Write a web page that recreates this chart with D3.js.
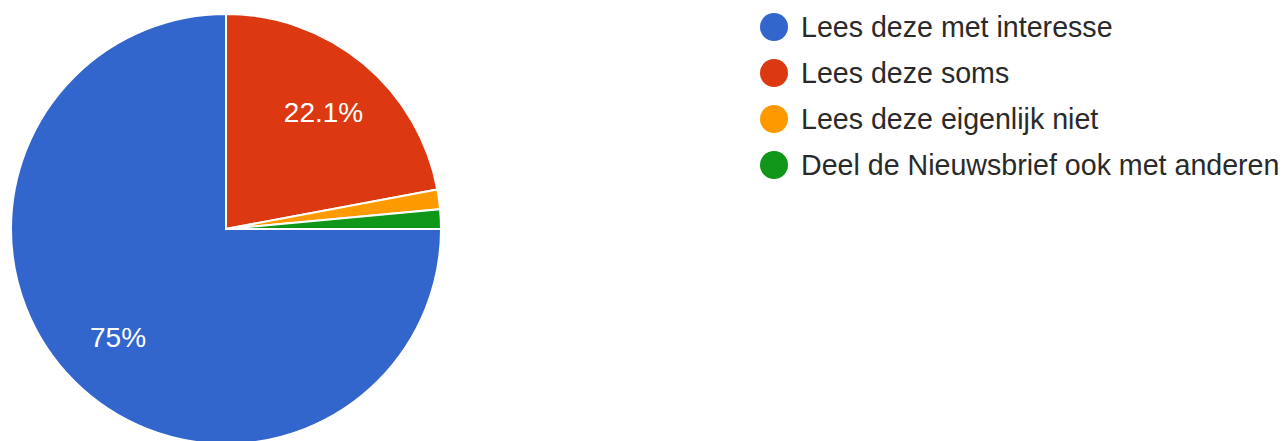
<!DOCTYPE html>
<html>
<head>
<meta charset="utf-8">
<script src="https://cdn.jsdelivr.net/npm/d3@7"></script>
<style>
  body { margin: 0; background: #fff; }
  svg text { font-family: "Liberation Sans", Arial, sans-serif; }
</style>
</head>
<body>
<div id="chart"></div>
<script>
// answers (68 responses)
var categories = ["Lees deze met interesse", "Lees deze soms", "Lees deze eigenlijk niet", "Deel de Nieuwsbrief ook met anderen"];
var counts = [51, 15, 1, 1];
var colors = ["#3366cc", "#dc3912", "#ff9900", "#109618"];
var sliceLabels = ["75%", "22.1%", "", ""];

var width = 1287, height = 441;
var radius = 215;
var cx = 226, cy = 229;

var svg = d3.select("#chart").append("svg")
    .attr("width", width)
    .attr("height", height);

var data = categories.map(function(c, i) {
  return { name: c, value: counts[i], color: colors[i], label: sliceLabels[i] };
});

// order: red, orange, green clockwise from 12 o'clock, then blue
var order = [1, 2, 3, 0];
var pie = d3.pie()
    .value(function(d) { return d.value; })
    .sort(function(a, b) { return order.indexOf(data.indexOf(a)) - order.indexOf(data.indexOf(b)); });

var arc = d3.arc().innerRadius(0).outerRadius(radius);
var labelArc = d3.arc().innerRadius(radius * 0.71).outerRadius(radius * 0.71);

var g = svg.append("g")
    .attr("transform", "translate(" + cx + "," + cy + ")");

var slices = g.selectAll("g.slice")
    .data(pie(data))
    .enter().append("g")
    .attr("class", "slice");

slices.append("path")
    .attr("d", arc)
    .attr("fill", function(d) { return d.data.color; })
    .attr("stroke", "#fff")
    .attr("stroke-width", 2);

slices.append("text")
    .attr("transform", function(d) { return "translate(" + labelArc.centroid(d) + ")"; })
    .attr("text-anchor", "middle")
    .attr("dy", "0.36em")
    .attr("fill", "#fff")
    .attr("font-size", 28)
    .text(function(d) { return d.data.label; });

// legend
var legend = svg.append("g")
    .attr("transform", "translate(774,27)");

var rows = legend.selectAll("g.row")
    .data(data)
    .enter().append("g")
    .attr("class", "row")
    .attr("transform", function(d, i) { return "translate(0," + (i * 46) + ")"; });

rows.append("circle")
    .attr("r", 14)
    .attr("fill", function(d) { return d.color; });

rows.append("text")
    .attr("x", 27)
    .attr("dy", "0.36em")
    .attr("font-size", 28.6)
    .attr("fill", "#2a2a2a")
    .text(function(d) { return d.name; });
</script>
</body>
</html>
